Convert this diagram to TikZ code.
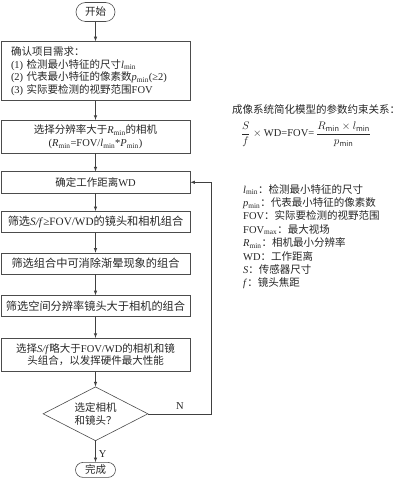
\documentclass[tikz,border=0pt]{standalone}
\usepackage{fontspec}
\usepackage{amsmath}
\setmainfont{Noto Sans CJK SC}
\newfontfamily\en{Liberation Serif}
\usetikzlibrary{positioning,shapes,arrows.meta}

\newcommand{\lmin}{{\en\textit{l}\textsubscript{min}}}
\newcommand{\pmin}{{\en\textit{p}\textsubscript{min}}}
\newcommand{\Rmin}{{\en\textit{R}\textsubscript{min}}}

\begin{document}
\begin{tikzpicture}[x=1pt,y=-1pt,
    box/.style={draw=black!70, line width=0.6pt, minimum width=189pt, minimum height=21pt, inner sep=2pt, align=center, text=black!85, font=\fontsize{10.5}{12.7}\selectfont},
    wide/.style={font=\fontsize{11.2}{13}\selectfont},
    term/.style={draw=black!70, line width=0.6pt, rounded rectangle, inner sep=1pt, text=black!85, font=\fontsize{10.5}{12.7}\selectfont},
    flow/.style={-latex, black!75, line width=0.6pt},
    note/.style={text=black!85, inner sep=0pt, font=\fontsize{10.5}{13.4}\selectfont}]

    \useasboundingbox (0,0) rectangle (400,478);

    % main flow
    \node[term, minimum width=41pt, minimum height=19pt] (start) at (95.5,12) {开始};
    \node[box, below=19.5pt of start, align=left, text width=169pt, inner xsep=10pt, minimum height=59pt] (need) {确认项目需求：\\
        {\en (1) }检测最小特征的尺寸\lmin\\
        {\en (2) }代表最小特征的像素数\pmin{\en (≥2)}\\
        {\en (3) }实际要检测的视野范围{\en FOV}};
    \node[box, below=19pt of need, minimum height=33pt] (cam) {选择分辨率大于\Rmin 的相机\\
        {\en (\textit{R}\textsubscript{min}=FOV/\textit{l}\textsubscript{min}*\textit{P}\textsubscript{min})}};
    \node[box, below=18pt of cam] (wd) {确定工作距离{\en WD}};
    \node[box, wide, below=18pt of wd] (ratio) {筛选{\en\textit{S/f}≥FOV/WD}的镜头和相机组合};
    \node[box, wide, below=20pt of ratio] (vignet) {筛选组合中可消除渐晕现象的组合};
    \node[box, wide, below=21pt of vignet] (resol) {筛选空间分辨率镜头大于相机的组合};
    \node[box, below=21pt of resol, minimum height=33pt] (best) {选择{\en\textit{S/f}}略大于{\en FOV/WD}的相机和镜\\
        头组合，以发挥硬件最大性能};
    \node[box, diamond, minimum width=105pt, minimum height=54pt, inner sep=0pt, aspect=1.9, below=15pt of best] (choose) {选定相机\\和镜头？};
    \node[term, minimum width=42pt, minimum height=15pt, below=21pt of choose] (done) {完成};

    \draw[flow] (start) -- (need);
    \draw[flow] (need) -- (cam);
    \draw[flow] (cam) -- (wd);
    \draw[flow] (wd) -- (ratio);
    \draw[flow] (ratio) -- (vignet);
    \draw[flow] (vignet) -- (resol);
    \draw[flow] (resol) -- (best);
    \draw[flow] (best) -- (choose);
    \draw[flow] (choose) -- node[right, note, xshift=3pt, yshift=-2pt]{\en Y} (done);

    % loop back
    \draw[flow] (choose.east) -- node[above, note, yshift=4pt]{\en N} ++(63,0) coordinate (back) |- (wd.east);

    % model
    \node[note, anchor=west] (title) at (232,110) {成像系统简化模型的参数约束关系：};
    \node[note, text=black!85] (model) at (306,134) {$\dfrac{S}{f}\times\text{\en WD=FOV=}\,\dfrac{R_{\min}\times l_{\min}}{p_{\min}}$};
    \node[note, anchor=north west, align=left] (legend) at (243,184) {\lmin：检测最小特征的尺寸\\
        \pmin：代表最小特征的像素数\\
        {\en FOV}：实际要检测的视野范围\\
        {\en FOV\textsubscript{max}}：最大视场\\
        \Rmin：相机最小分辨率\\
        {\en WD}：工作距离\\
        {\en\textit{S}}：传感器尺寸\\
        {\en\textit{f}}：镜头焦距};

\end{tikzpicture}
\end{document}
